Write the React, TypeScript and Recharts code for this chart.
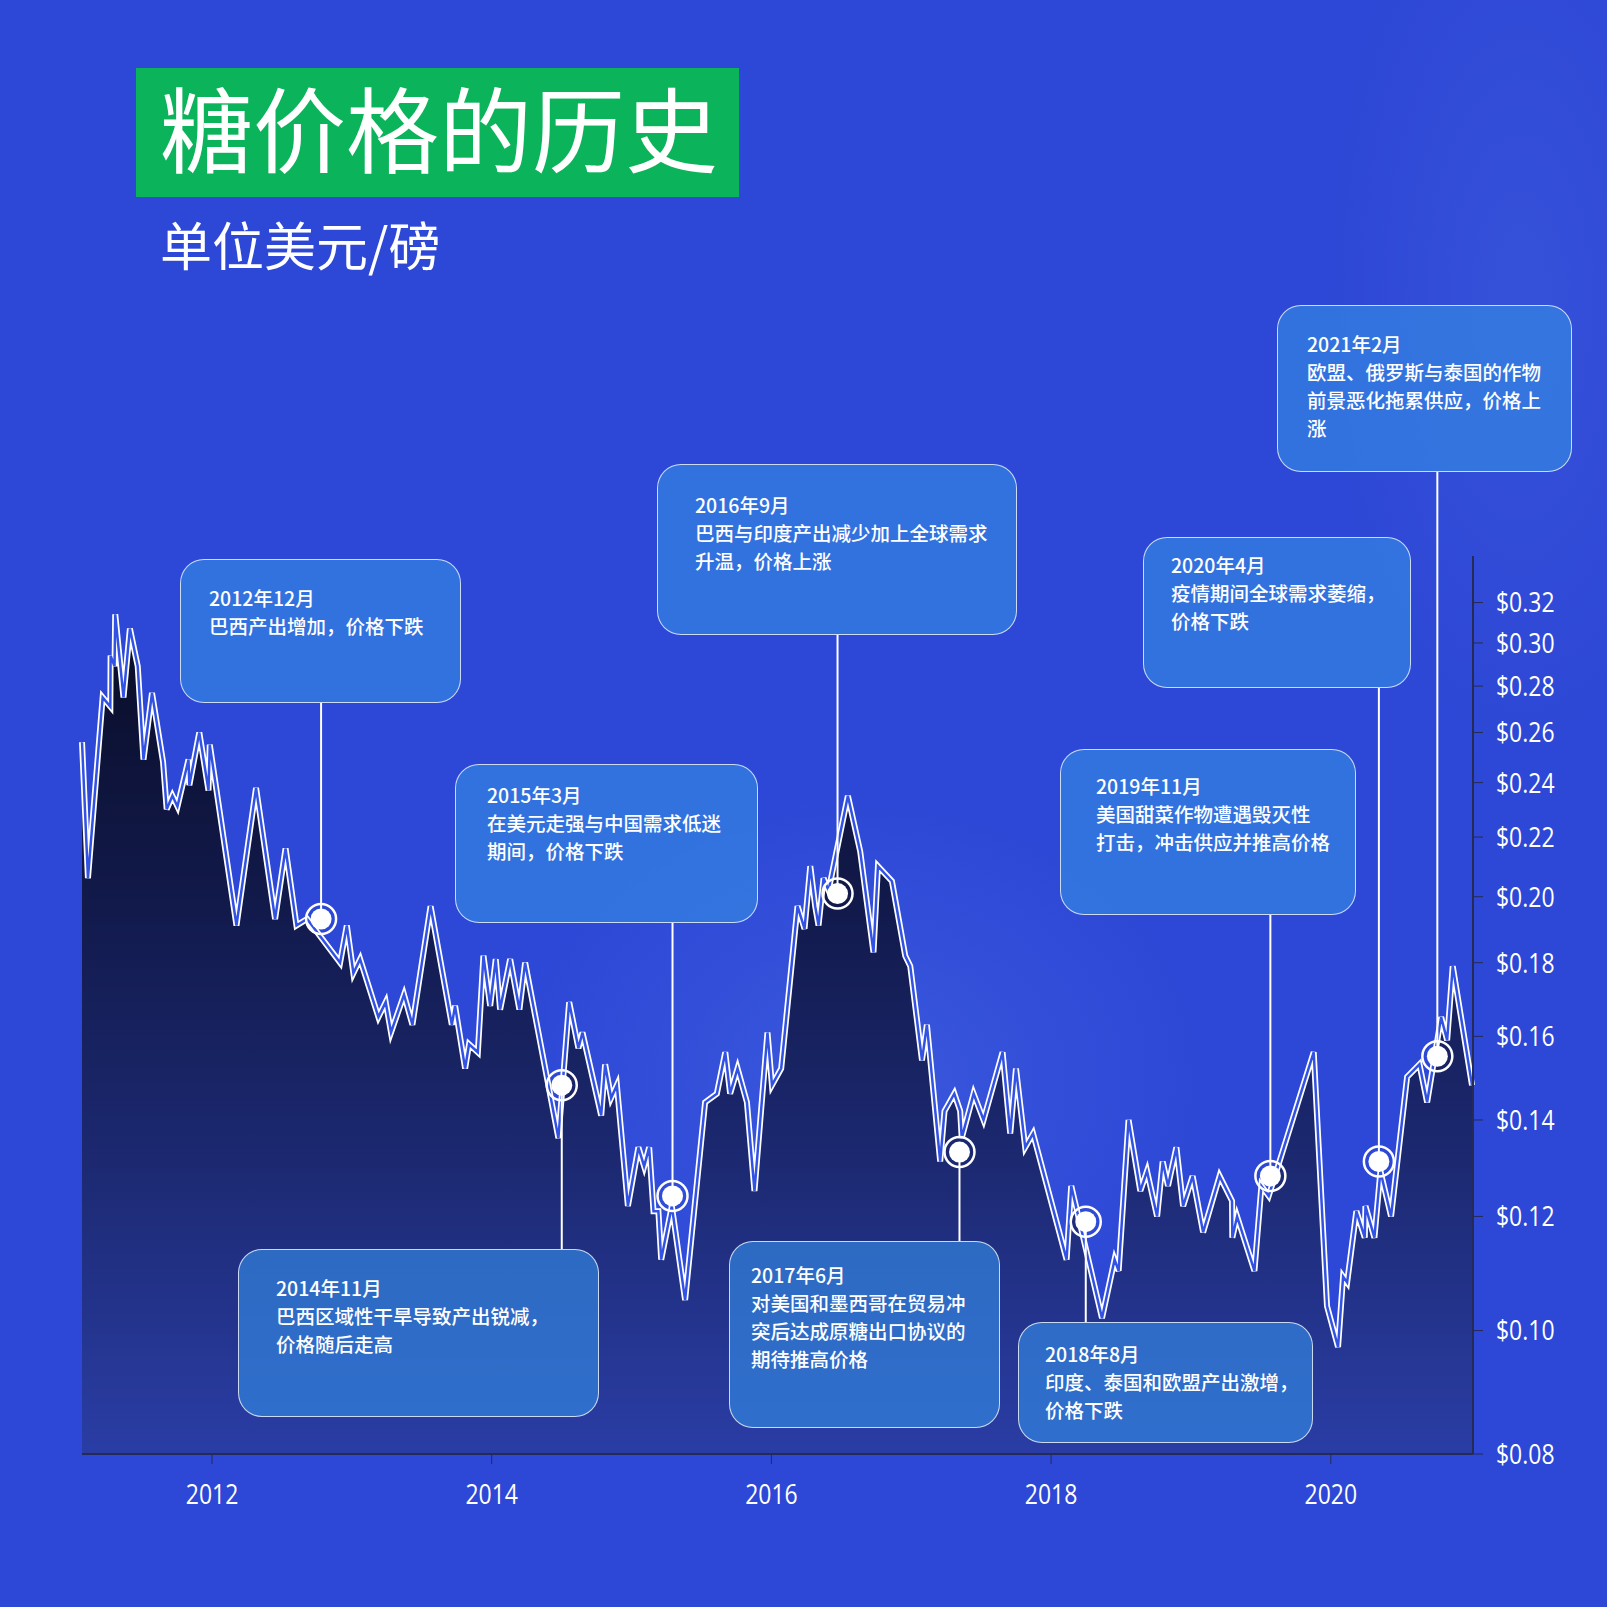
import { ComposedChart, Area, Line, Scatter, XAxis, YAxis } from "recharts";

// sugar price, USD per pound (decimal year, price)
const YEARS = [
  2011.0705, 2011.113, 2011.218, 2011.273, 2011.275, 2011.303, 2011.308, 2011.367, 2011.413, 2011.469,
  2011.51, 2011.571, 2011.65, 2011.676, 2011.717, 2011.753, 2011.832, 2011.838, 2011.909, 2011.975,
  2011.984, 2012.175, 2012.315, 2012.451, 2012.526, 2012.604, 2012.68, 2012.916, 2012.964, 2013.011,
  2013.059, 2013.19, 2013.242, 2013.28, 2013.373, 2013.433, 2013.563, 2013.715, 2013.738, 2013.81,
  2013.838, 2013.901, 2013.941, 2013.989, 2014.029, 2014.06, 2014.132, 2014.198, 2014.239, 2014.477,
  2014.554, 2014.62, 2014.649, 2014.783, 2014.811, 2014.854, 2014.895, 2014.974, 2015.049, 2015.09,
  2015.126, 2015.157, 2015.192, 2015.212, 2015.288, 2015.383, 2015.526, 2015.61, 2015.67, 2015.705,
  2015.758, 2015.825, 2015.879, 2015.972, 2016.004, 2016.07, 2016.187, 2016.237, 2016.278, 2016.313,
  2016.337, 2016.373, 2016.409, 2016.547, 2016.635, 2016.73, 2016.762, 2016.862, 2016.957, 2016.993,
  2017.077, 2017.112, 2017.207, 2017.238, 2017.308, 2017.35, 2017.361, 2017.446, 2017.517, 2017.653,
  2017.708, 2017.749, 2017.815, 2017.871, 2018.111, 2018.144, 2018.364, 2018.454, 2018.483, 2018.554,
  2018.638, 2018.686, 2018.758, 2018.798, 2018.836, 2018.896, 2018.944, 2019.012, 2019.087, 2019.205,
  2019.294, 2019.296, 2019.33, 2019.454, 2019.504, 2019.556, 2019.878, 2019.973, 2020.052, 2020.088,
  2020.117, 2020.183, 2020.243, 2020.248, 2020.312, 2020.355, 2020.431, 2020.546, 2020.634, 2020.689,
  2020.789, 2020.832, 2020.872, 2021.01,
];
const PRICES = [
  0.256, 0.206, 0.275, 0.271, 0.294, 0.289, 0.314, 0.275, 0.307, 0.289,
  0.249, 0.277, 0.248, 0.23, 0.235, 0.231, 0.249, 0.239, 0.26, 0.237,
  0.255, 0.191, 0.238, 0.193, 0.216, 0.191, 0.193, 0.18, 0.191, 0.177,
  0.181, 0.165, 0.169, 0.161, 0.171, 0.163, 0.197, 0.163, 0.168, 0.152,
  0.158, 0.156, 0.182, 0.168, 0.181, 0.167, 0.181, 0.167, 0.18, 0.136,
  0.169, 0.157, 0.161, 0.141, 0.153, 0.145, 0.148, 0.122, 0.134, 0.13,
  0.134, 0.121, 0.121, 0.112, 0.122, 0.105, 0.144, 0.146, 0.156, 0.146,
  0.152, 0.144, 0.125, 0.161, 0.148, 0.152, 0.197, 0.19, 0.21, 0.197,
  0.191, 0.206, 0.202, 0.235, 0.215, 0.183, 0.21, 0.205, 0.182, 0.179,
  0.154, 0.163, 0.131, 0.142, 0.146, 0.142, 0.136, 0.146, 0.14, 0.156,
  0.137, 0.152, 0.134, 0.137, 0.112, 0.126, 0.102, 0.112, 0.11, 0.14,
  0.125, 0.129, 0.12, 0.131, 0.126, 0.134, 0.122, 0.128, 0.117, 0.128,
  0.123, 0.116, 0.12, 0.11, 0.126, 0.124, 0.156, 0.104, 0.0974, 0.109,
  0.108, 0.121, 0.116, 0.122, 0.116, 0.129, 0.12, 0.15, 0.153, 0.144,
  0.165, 0.159, 0.179, 0.148,
];

const X_TICKS = [2012, 2014, 2016, 2018, 2020];
// bottom tick sits on the axis floor and reads as $0.08
const Y_TICKS = [0.0821, 0.1, 0.12, 0.14, 0.16, 0.18, 0.2, 0.22, 0.24, 0.26, 0.28, 0.3, 0.32];

const EVENT_YEARS = [2012.78, 2014.501, 2015.293, 2016.473, 2017.345, 2018.248, 2019.568, 2020.344, 2020.762];
const EVENT_PRICES = [0.193, 0.148, 0.124, 0.201, 0.133, 0.119, 0.128, 0.131, 0.155];
const EVENT_TEXTS = [
  ["2012年12月", "巴西产出增加，价格下跌"],
  ["2014年11月", "巴西区域性干旱导致产出锐减，", "价格随后走高"],
  ["2015年3月", "在美元走强与中国需求低迷", "期间，价格下跌"],
  ["2016年9月", "巴西与印度产出减少加上全球需求", "升温，价格上涨"],
  ["2017年6月", "对美国和墨西哥在贸易冲", "突后达成原糖出口协议的", "期待推高价格"],
  ["2018年8月", "印度、泰国和欧盟产出激增，", "价格下跌"],
  ["2019年11月", "美国甜菜作物遭遇毁灭性", "打击，冲击供应并推高价格"],
  ["2020年4月", "疫情期间全球需求萎缩，", "价格下跌"],
  ["2021年2月", "欧盟、俄罗斯与泰国的作物", "前景恶化拖累供应，价格上", "涨"],
];

// callout box layout (page pixels)
const BOXES = [
  { left: 180, top: 559, width: 281, height: 144, tx: 28, ty: 24 },
  { left: 238, top: 1249, width: 361, height: 168, tx: 37, ty: 24 },
  { left: 455, top: 764, width: 303, height: 159, tx: 31, ty: 16 },
  { left: 657, top: 464, width: 360, height: 171, tx: 37, ty: 26 },
  { left: 729, top: 1241, width: 271, height: 187, tx: 21, ty: 19 },
  { left: 1018, top: 1322, width: 295, height: 121, tx: 26, ty: 17 },
  { left: 1060, top: 749, width: 296, height: 166, tx: 35, ty: 22 },
  { left: 1143, top: 537, width: 268, height: 151, tx: 27, ty: 13 },
  { left: 1277, top: 305, width: 295, height: 167, tx: 29, ty: 24 },
];

const priceData = YEARS.map((year, i) => ({ year, price: PRICES[i] }));
const eventData = EVENT_YEARS.map((year, i) => ({ year, price: EVENT_PRICES[i], idx: i }));

const AXIS_FONT = '"Open Sans", "Noto Sans", sans-serif';
const CJK_FONT = '"Noto Sans CJK SC", "Noto Sans", sans-serif';

function EventMarker(props: any) {
  const { cx, cy, payload } = props;
  const box = BOXES[payload.idx];
  const edge = box.top > cy ? box.top : box.top + box.height;
  return (
    <g>
      <line x1={cx} y1={cy} x2={cx} y2={edge} stroke="#ffffff" strokeWidth={2} />
      <circle cx={cx} cy={cy} r={15} fill="none" stroke="#ffffff" strokeWidth={2.5} />
      <circle cx={cx} cy={cy} r={10.5} fill="#ffffff" />
    </g>
  );
}

function XTick(props: any) {
  const { x, y, payload } = props;
  return (
    <text
      transform={`translate(${x},${y}) scale(0.82,1)`}
      textAnchor="middle"
      dy="0.71em"
      fill="#ffffff"
      fontSize={28}
      fontFamily={AXIS_FONT}
    >
      {payload.value}
    </text>
  );
}

function YTick(props: any) {
  const { x, y, payload } = props;
  return (
    <text
      transform={`translate(${x},${y}) scale(0.82,1)`}
      textAnchor="start"
      dy="0.355em"
      fill="#ffffff"
      fontSize={28}
      fontFamily={AXIS_FONT}
    >
      {`$${Number(payload.value).toFixed(2)}`}
    </text>
  );
}

export default function App() {
  return (
    <div
      style={{
        position: "absolute",
        left: 0,
        top: 0,
        width: 1607,
        height: 1607,
        overflow: "hidden",
        background:
          "radial-gradient(ellipse 520px 420px at 860px 1080px, rgba(90,130,235,0.28), rgba(90,130,235,0) 70%), radial-gradient(ellipse 300px 700px at 1520px 300px, rgba(80,110,225,0.25), rgba(80,110,225,0) 70%), #2d47d6",
      }}
    >
      <div
        style={{
          position: "absolute",
          left: 136,
          top: 68,
          width: 603,
          height: 129,
          background: "#0bb35b",
          display: "flex",
          alignItems: "center",
          paddingLeft: 24,
          paddingBottom: 14,
          boxSizing: "border-box",
          color: "#ffffff",
          fontFamily: CJK_FONT,
          fontSize: 93,
          fontWeight: 400,
          lineHeight: 1,
        }}
      >
        糖价格的历史
      </div>
      <div
        style={{
          position: "absolute",
          left: 160,
          top: 218,
          color: "#ffffff",
          fontFamily: CJK_FONT,
          fontSize: 52,
          lineHeight: 1,
        }}
      >
        单位美元/磅
      </div>

      <div style={{ position: "absolute", left: 0, top: 0 }}>
        <ComposedChart
          width={1607}
          height={1607}
          data={priceData}
          margin={{ top: 556, right: 0, bottom: 0, left: 82 }}
        >
          <defs>
            <linearGradient id="areaFill" x1="0" y1="0" x2="0" y2="1">
              <stop offset="0%" stopColor="#090d26" />
              <stop offset="35%" stopColor="#121a4c" />
              <stop offset="65%" stopColor="#1c2971" />
              <stop offset="100%" stopColor="#2a3da5" />
            </linearGradient>
          </defs>
          <XAxis
            dataKey="year"
            type="number"
            domain={[2011.0704, 2021.017]}
            ticks={X_TICKS}
            height={153}
            tickSize={10}
            tickMargin={20}
            axisLine={{ stroke: "#262b55", strokeWidth: 2 }}
            tickLine={{ stroke: "#262b55" }}
            tick={<XTick />}
          />
          <YAxis
            orientation="right"
            scale="log"
            domain={[0.0821, 0.3447]}
            ticks={Y_TICKS}
            width={134}
            tickSize={10}
            tickMargin={13}
            axisLine={{ stroke: "#262b55", strokeWidth: 2 }}
            tickLine={{ stroke: "#262b55" }}
            tick={<YTick />}
          />
          <Area
            type="linear"
            dataKey="price"
            stroke="none"
            fill="url(#areaFill)"
            fillOpacity={1}
            isAnimationActive={false}
          />
          <Line
            type="linear"
            dataKey="price"
            stroke="#ffffff"
            strokeWidth={6}
            dot={false}
            activeDot={false}
            isAnimationActive={false}
          />
          <Line
            type="linear"
            dataKey="price"
            stroke="#3252e4"
            strokeWidth={2.5}
            dot={false}
            activeDot={false}
            isAnimationActive={false}
          />
          <Scatter data={eventData} dataKey="price" shape={EventMarker} isAnimationActive={false} />
        </ComposedChart>
      </div>

      {BOXES.map((box, i) => (
        <div
          key={i}
          style={{
            position: "absolute",
            left: box.left,
            top: box.top,
            width: box.width,
            height: box.height,
            boxSizing: "border-box",
            background: "rgba(52,135,226,0.67)",
            border: "1.5px solid rgba(255,255,255,0.75)",
            borderRadius: 24,
          }}
        >
          <div
            style={{
              position: "absolute",
              left: box.tx,
              top: box.ty,
              color: "#ffffff",
              fontFamily: CJK_FONT,
              fontSize: 19.5,
              fontWeight: 500,
              lineHeight: "28px",
              whiteSpace: "nowrap",
            }}
          >
            {EVENT_TEXTS[i].map((t, j) => (
              <div key={j}>{t}</div>
            ))}
          </div>
        </div>
      ))}
    </div>
  );
}
